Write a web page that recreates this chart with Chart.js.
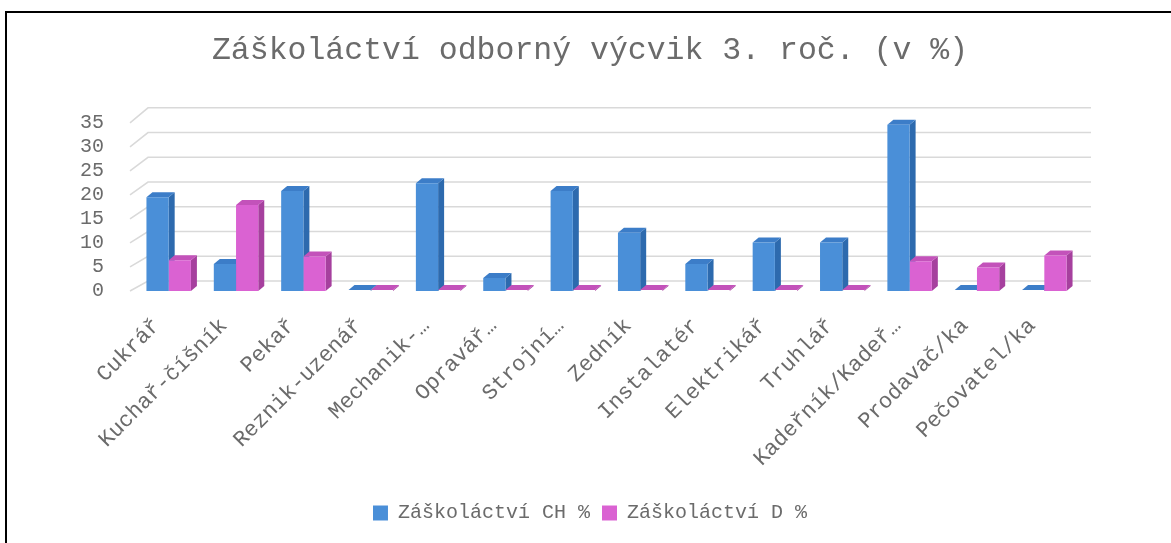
<!DOCTYPE html>
<html>
<head>
<meta charset="utf-8">
<script src="https://cdn.jsdelivr.net/npm/chart.js@4/dist/chart.umd.min.js"></script>
<style>
  html, body { margin: 0; padding: 0; background: #fff; overflow: hidden; }
  #frame {
    position: absolute; left: 5px; top: 11px;
    width: 1166px; height: 530px;
    border: 2px solid #000;
    background: #fff;
  }
  canvas { display: block; }
</style>
</head>
<body>
<div id="frame"><canvas id="chart" width="1166" height="530"></canvas></div>
<script>
// Chart data
const categories = [
  'Cukrář', 'Kuchař-číšník', 'Pekař', 'Reznik-uzenář', 'Mechanik-…',
  'Opravář…', 'Strojní…', 'Zedník', 'Instalatér', 'Elektrikář',
  'Truhlář', 'Kadeřník/Kadeř…', 'Prodavač/ka', 'Pečovatel/ka'
];
const absenceCH = [19.5, 5.6, 20.8, 0, 22.4, 2.7, 20.8, 12.1, 5.6, 10.1, 10.1, 34.6, 0, 0];
const absenceD = [6.4, 17.9, 7.2, 0, 0, 0, 0, 0, 0, 0, 0, 6.2, 4.9, 7.4];
const yTicks = [0, 5, 10, 15, 20, 25, 30, 35];

const seriesNames = ['Záškoláctví CH %', 'Záškoláctví D %'];
const FONT = "'Liberation Mono', 'Courier New', monospace";
const TEXT = '#6b6b6b';

// front / side / top shades per series
const shades = [
  { front: '#4A8FD8', side: '#2D6AAE', top: '#3C7DC8' },
  { front: '#DA62D2', side: '#A6409E', top: '#C352BA' }
];

const DX = 6, DY = 5; // depth of the 3D bars

// back wall grid + bar side/top faces
const bar3d = {
  id: 'bar3d',
  beforeDatasetsDraw(chart) {
    const ctx = chart.ctx;
    const area = chart.chartArea;
    const y = chart.scales.y;
    ctx.save();
    ctx.strokeStyle = '#D9D9D9';
    ctx.lineWidth = 1.5;
    yTicks.forEach(v => {
      const fy = y.getPixelForValue(v);
      const by = fy - (10 + 5 * v / 35);
      ctx.beginPath();
      ctx.moveTo(area.left - 5, fy);
      ctx.lineTo(area.left + 13, by);
      ctx.lineTo(area.right + 13, by);
      ctx.stroke();
    });

    // side and top faces, drawn per category so the next front face covers them
    const metas = chart.data.datasets.map((d, i) => chart.getDatasetMeta(i));
    for (let j = 0; j < categories.length; j++) {
      metas.forEach((meta, i) => {
        const el = meta.data[j];
        if (!el) return;
        const p = el.getProps(['x', 'y', 'base', 'width'], true);
        const l = p.x - p.width / 2, r = p.x + p.width / 2;
        const top = Math.min(p.y, p.base - 1);
        ctx.fillStyle = shades[i].side;
        ctx.beginPath();
        ctx.moveTo(r, top);
        ctx.lineTo(r + DX, top - DY);
        ctx.lineTo(r + DX, p.base - DY);
        ctx.lineTo(r, p.base);
        ctx.closePath();
        ctx.fill();
        ctx.fillStyle = shades[i].top;
        ctx.beginPath();
        ctx.moveTo(l, top);
        ctx.lineTo(l + DX, top - DY);
        ctx.lineTo(r + DX, top - DY);
        ctx.lineTo(r, top);
        ctx.closePath();
        ctx.fill();
      });
    }
    ctx.restore();
  }
};

new Chart(document.getElementById('chart'), {
  type: 'bar',
  data: {
    labels: categories,
    datasets: [
      { label: seriesNames[0], data: absenceCH, backgroundColor: shades[0].front },
      { label: seriesNames[1], data: absenceD, backgroundColor: shades[1].front }
    ]
  },
  options: {
    responsive: false,
    animation: false,
    categoryPercentage: 0.66,
    barPercentage: 1,
    layout: { padding: { left: 0, right: 0, top: 0, bottom: 10 } },
    plugins: {
      title: {
        display: true,
        text: 'Záškoláctví odborný výcvik 3. roč. (v %)',
        color: TEXT,
        font: { family: FONT, size: 31.5, weight: 'normal', lineHeight: 1.2 },
        padding: { top: 19, bottom: 53 }
      },
      legend: {
        position: 'bottom',
        labels: {
          color: TEXT,
          font: { family: FONT, size: 20 },
          boxWidth: 15,
          boxHeight: 15,
          padding: 12
        }
      },
      tooltip: { enabled: false }
    },
    scales: {
      x: {
        grid: { display: false, drawTicks: false },
        border: { display: false },
        ticks: {
          color: TEXT,
          font: { family: FONT, size: 22 },
          minRotation: 45,
          maxRotation: 45,
          autoSkip: false,
          labelOffset: -12,
          padding: 22
        },
        afterFit(scale) { scale.height = 200; }
      },
      y: {
        min: 0,
        max: 35,
        grid: { display: false, drawTicks: false },
        border: { display: false },
        ticks: {
          stepSize: 5,
          autoSkip: false,
          color: TEXT,
          font: { family: FONT, size: 20 },
          padding: 31
        },
        afterFit(scale) { scale.width = 128; }
      },
      // empty right axis keeps the back wall clear of the frame edge
      yRight: {
        position: 'right',
        min: 0,
        max: 35,
        grid: { display: false, drawTicks: false },
        border: { display: false },
        ticks: { display: false },
        afterFit(scale) { scale.width = 95; }
      }
    }
  },
  plugins: [bar3d]
});
</script>
</body>
</html>
